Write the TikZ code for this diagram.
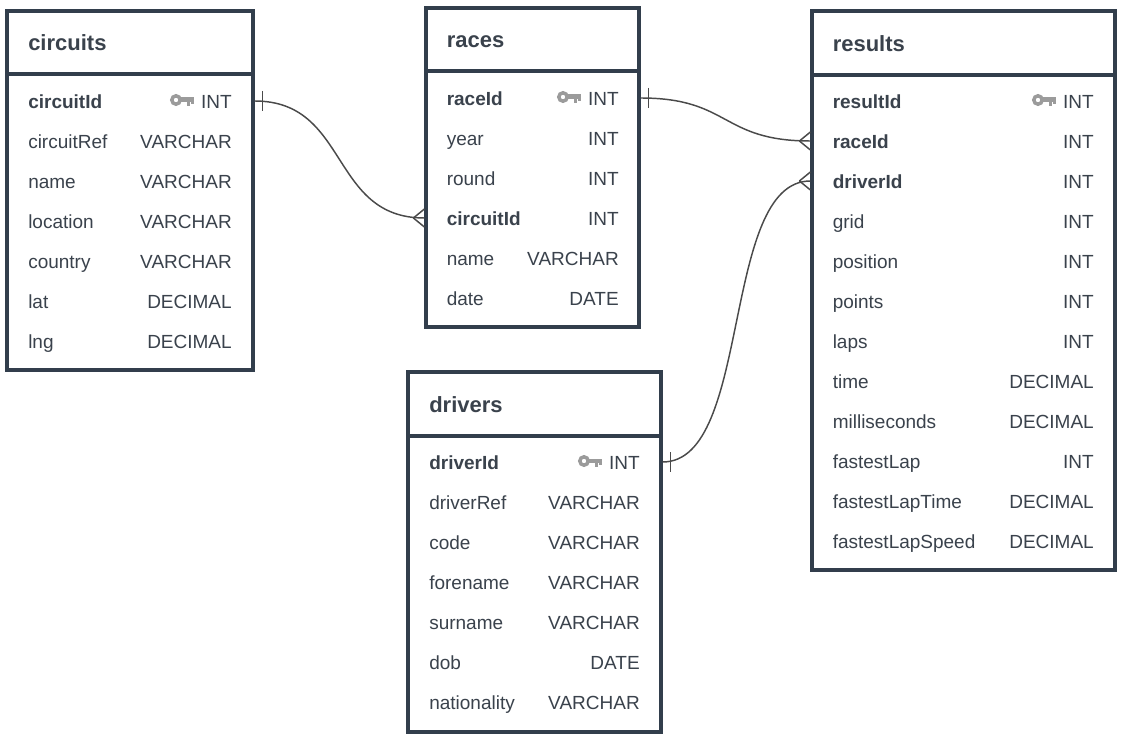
\documentclass[tikz,border=0pt]{standalone}
\usepackage{fontspec}
\setmainfont{Liberation Sans}
\usetikzlibrary{calc}
\definecolor{framecol}{HTML}{323E4C}
\definecolor{textcol}{HTML}{3A424C}
\definecolor{relcol}{HTML}{4A4A4A}
\definecolor{keycol}{HTML}{9B9B9B}
\tikzset{
	tablebox/.style={draw=framecol, line width=2.4pt, fill=white, anchor=north west, inner sep=0pt},
	tablerule/.style={draw=framecol, line width=2.4pt},
	titletext/.style={anchor=west, inner sep=0pt, text=textcol, text height=13.5pt, text depth=0pt, font=\fontsize{16.5}{18}\selectfont\bfseries},
	fieldname/.style={anchor=west, inner sep=0pt, text=textcol, text height=11.7pt, text depth=0pt, font=\fontsize{14.25}{16}\selectfont},
	keyname/.style={fieldname, font=\fontsize{14.25}{16}\selectfont\bfseries},
	fieldtype/.style={fieldname, anchor=east},
	relline/.style={draw=relcol, line width=1.1pt},
	keyicon/.pic={
		\draw[keycol, line width=2.6pt] (0,0) circle (4.2);
		\fill[keycol] (5,-2.5) rectangle (18,2.2);
		\fill[keycol] (11,0) rectangle (14,6);
		\fill[keycol] (15,0) rectangle (17.5,4);
	}
}
\newcommand{\onemark}[1]{\draw[relline] ($(#1)+(8,-10)$) -- ($(#1)+(8,10)$);}
\newcommand{\manymark}[1]{\draw[relline] ($(#1)+(-11,0)$) -- ($(#1)+(0,-9)$) ($(#1)+(-11,0)$) -- ($(#1)+(0,9)$);}
\begin{document}
\begin{tikzpicture}[x=.75pt, y=-.75pt]
	\useasboundingbox[fill=white] (0,0) rectangle (1132,745);

	% circuits
	\node[tablebox, minimum width=184.5pt, minimum height=269.25pt] (circuits) at (5.4,9.4) {};
	\draw[tablerule] (7,74) -- (253,74);
	\node[titletext] (circuitstitle) at (28,42) {circuits};
	\foreach \i/\f/\t/\s in {0/circuitId/INT/keyname, 1/circuitRef/VARCHAR/fieldname, 2/name/VARCHAR/fieldname,
		3/location/VARCHAR/fieldname, 4/country/VARCHAR/fieldname, 5/lat/DECIMAL/fieldname, 6/lng/DECIMAL/fieldname}
	{
		\node[\s] (circuits-\i) at (28,{101+40*\i}) {\f};
		\node[fieldtype] (circuits-type\i) at (232,{101+40*\i}) {\t};
	}
	\pic at (176,100) {keyicon};

	% races
	\node[tablebox, minimum width=159.75pt, minimum height=239.25pt] (races) at (424.4,6.4) {};
	\draw[tablerule] (426,71) -- (639,71);
	\node[titletext] (racestitle) at (446.5,39) {races};
	\foreach \i/\f/\t/\s in {0/raceId/INT/keyname, 1/year/INT/fieldname, 2/round/INT/fieldname,
		3/circuitId/INT/keyname, 4/name/VARCHAR/fieldname, 5/date/DATE/fieldname}
	{
		\node[\s] (races-\i) at (446.5,{98+40*\i}) {\f};
		\node[fieldtype] (races-type\i) at (619,{98+40*\i}) {\t};
	}
	\pic at (563,97) {keyicon};

	% results
	\node[tablebox, minimum width=227.25pt, minimum height=419.25pt] (results) at (810.4,9.4) {};
	\draw[tablerule] (812,75) -- (1115,75);
	\node[titletext] (resultstitle) at (832.5,43) {results};
	\foreach \i/\f/\t/\s in {0/resultId/INT/keyname, 1/raceId/INT/keyname, 2/driverId/INT/keyname,
		3/grid/INT/fieldname, 4/position/INT/fieldname, 5/points/INT/fieldname, 6/laps/INT/fieldname,
		7/time/DECIMAL/fieldname, 8/milliseconds/DECIMAL/fieldname, 9/fastestLap/INT/fieldname,
		10/fastestLapTime/DECIMAL/fieldname, 11/fastestLapSpeed/DECIMAL/fieldname}
	{
		\node[\s] (results-\i) at (832.5,{101+40*\i}) {\f};
		\node[fieldtype] (results-type\i) at (1094,{101+40*\i}) {\t};
	}
	\pic at (1038,100) {keyicon};

	% drivers
	\node[tablebox, minimum width=189.75pt, minimum height=270pt] (drivers) at (406.4,370.4) {};
	\draw[tablerule] (408,436) -- (661,436);
	\node[titletext] (driverstitle) at (429,403) {drivers};
	\foreach \i/\f/\t/\s in {0/driverId/INT/keyname, 1/driverRef/VARCHAR/fieldname, 2/code/VARCHAR/fieldname,
		3/forename/VARCHAR/fieldname, 4/surname/VARCHAR/fieldname, 5/dob/DATE/fieldname, 6/nationality/VARCHAR/fieldname}
	{
		\node[\s] (drivers-\i) at (429,{462+40*\i}) {\f};
		\node[fieldtype] (drivers-type\i) at (640,{462+40*\i}) {\t};
	}
	\pic at (584,461) {keyicon};

	% relations
	\coordinate (circuitsout) at (circuits.east |- circuits-0);
	\coordinate (racesin) at (races.west |- races-3);
	\coordinate (racesout) at (races.east |- races-0);
	\coordinate (resultsrace) at (results.west |- results-1);
	\coordinate (resultsdriver) at (results.west |- results-2);
	\coordinate (driversout) at (drivers.east |- drivers-0);
	\draw[relline] (circuitsout) .. controls +(95,0) and +(-95,0) .. (racesin);
	\draw[relline] (racesout) .. controls +(90,0) and +(-90,0) .. (resultsrace);
	\draw[relline] (driversout) .. controls +(90,0) and +(-90,0) .. (resultsdriver);
	\onemark{circuitsout}
	\onemark{racesout}
	\onemark{driversout}
	\manymark{racesin}
	\manymark{resultsrace}
	\manymark{resultsdriver}
\end{tikzpicture}
\end{document}
